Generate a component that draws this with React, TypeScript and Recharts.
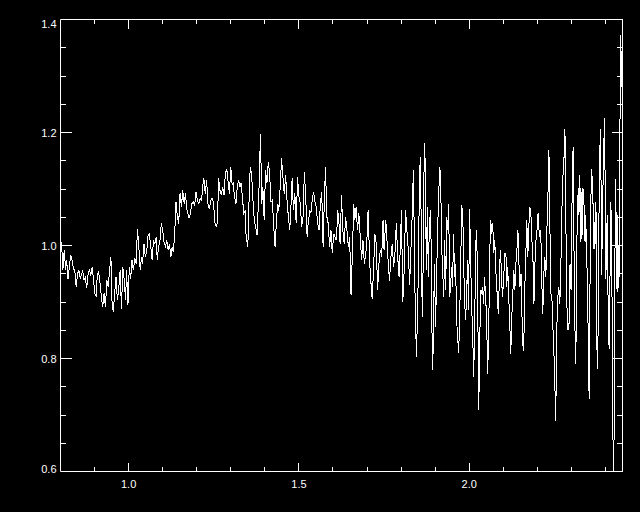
import { LineChart, Line, XAxis, YAxis } from "recharts";

// wavelength (micron) and relative flux
const wavelength = [
  0.803, 0.807, 0.811, 0.815, 0.818, 0.822, 0.826, 0.83, 0.834, 0.838,
  0.842, 0.846, 0.85, 0.854, 0.858, 0.861, 0.865, 0.869, 0.873, 0.877,
  0.881, 0.885, 0.889, 0.893, 0.897, 0.901, 0.905, 0.908, 0.912, 0.916,
  0.92, 0.924, 0.928, 0.932, 0.936, 0.94, 0.944, 0.948, 0.951, 0.955,
  0.959, 0.963, 0.967, 0.971, 0.975, 0.979, 0.983, 0.987, 0.991, 0.994,
  0.998, 1.002, 1.006, 1.01, 1.014, 1.018, 1.022, 1.026, 1.03, 1.034,
  1.038, 1.041, 1.045, 1.049, 1.053, 1.057, 1.061, 1.065, 1.069, 1.073,
  1.077, 1.081, 1.084, 1.088, 1.092, 1.096, 1.1, 1.104, 1.108, 1.112,
  1.116, 1.12, 1.124, 1.128, 1.131, 1.135, 1.139, 1.143, 1.147, 1.151,
  1.155, 1.159, 1.163, 1.167, 1.171, 1.174, 1.178, 1.182, 1.186, 1.19,
  1.194, 1.198, 1.202, 1.206, 1.21, 1.214, 1.218, 1.221, 1.225, 1.229,
  1.233, 1.237, 1.241, 1.245, 1.249, 1.253, 1.257, 1.261, 1.264, 1.268,
  1.272, 1.276, 1.28, 1.284, 1.288, 1.292, 1.296, 1.3, 1.304, 1.307,
  1.311, 1.315, 1.319, 1.323, 1.327,
  1.33, 1.334, 1.338, 1.342, 1.345, 1.35, 1.353,
  1.357, 1.361, 1.365, 1.369, 1.373, 1.377, 1.381, 1.384, 1.387, 1.391,
  1.394, 1.398, 1.402, 1.406, 1.41, 1.414, 1.418, 1.422, 1.426, 1.43,
  1.434, 1.438, 1.441, 1.445, 1.449, 1.453, 1.457, 1.461, 1.465, 1.469,
  1.473, 1.477, 1.48, 1.484, 1.488, 1.492, 1.496, 1.5, 1.504, 1.508,
  1.512, 1.516, 1.52, 1.524, 1.527, 1.532, 1.535, 1.539, 1.543, 1.547,
  1.551, 1.555, 1.559, 1.563, 1.567, 1.571, 1.574, 1.578, 1.582, 1.586,
  1.59, 1.594, 1.598, 1.602, 1.606,
  1.61, 1.614, 1.617, 1.621, 1.625, 1.629, 1.633, 1.637, 1.641, 1.645,
  1.649, 1.653, 1.657, 1.661, 1.664, 1.668, 1.672, 1.676, 1.68, 1.684,
  1.688, 1.692, 1.696, 1.7, 1.703, 1.708, 1.711, 1.715, 1.719, 1.723,
  1.727, 1.731, 1.735, 1.739, 1.743, 1.747, 1.75, 1.755, 1.758, 1.762,
  1.766, 1.77, 1.774, 1.778, 1.782, 1.786, 1.79, 1.794, 1.797, 1.801,
  1.805, 1.809, 1.813, 1.817, 1.821, 1.825, 1.828, 1.832, 1.836,
  1.838, 1.841, 1.845, 1.849, 1.853, 1.856, 1.859, 1.862, 1.865, 1.868,
  1.871, 1.874, 1.877, 1.88, 1.883, 1.887, 1.89, 1.893, 1.895, 1.898,
  1.901, 1.904, 1.907, 1.91, 1.913, 1.916, 1.919, 1.922, 1.925, 1.928,
  1.931, 1.934, 1.937, 1.94, 1.942, 1.945, 1.948, 1.951, 1.954, 1.957,
  1.96, 1.963, 1.966, 1.969, 1.972, 1.975, 1.978, 1.981, 1.984, 1.987,
  1.989, 1.992, 1.995, 1.998, 2.001, 2.004, 2.007, 2.01, 2.013, 2.016,
  2.019, 2.022, 2.025, 2.028, 2.031, 2.034, 2.036, 2.039, 2.042, 2.045,
  2.048, 2.051, 2.054, 2.057, 2.06, 2.063, 2.066, 2.069, 2.072, 2.075,
  2.078, 2.081, 2.083, 2.086, 2.089, 2.092, 2.095, 2.098, 2.101, 2.105,
  2.108, 2.11, 2.113, 2.116, 2.119, 2.122, 2.125, 2.128, 2.131, 2.134,
  2.137, 2.14, 2.143, 2.146, 2.149, 2.152, 2.154, 2.157, 2.16, 2.163,
  2.166, 2.169, 2.172, 2.175, 2.178, 2.181, 2.184, 2.187, 2.19, 2.193,
  2.196, 2.199, 2.202, 2.204, 2.207, 2.21, 2.213, 2.216, 2.219, 2.222,
  2.225, 2.228, 2.231, 2.234, 2.237, 2.24, 2.243, 2.246, 2.249, 2.252,
  2.254, 2.257, 2.26, 2.263, 2.266, 2.269, 2.272, 2.275, 2.278, 2.281,
  2.284, 2.287, 2.29, 2.293, 2.296, 2.299, 2.302, 2.305, 2.307, 2.31,
  2.313,
  2.316, 2.319, 2.321, 2.323, 2.325, 2.327, 2.328, 2.331, 2.333, 2.334,
  2.337, 2.34, 2.342, 2.344, 2.347, 2.35, 2.352, 2.354, 2.356, 2.358,
  2.36, 2.362, 2.364, 2.366, 2.368, 2.369, 2.372, 2.374, 2.375, 2.377,
  2.38, 2.381, 2.383, 2.385, 2.387, 2.389, 2.391, 2.393, 2.397, 2.399,
  2.401, 2.403, 2.405, 2.407, 2.409, 2.411, 2.413, 2.415, 2.416, 2.419,
  2.421, 2.423, 2.425, 2.426, 2.428, 2.43, 2.432, 2.434, 2.436, 2.438,
  2.44, 2.442, 2.443, 2.445, 2.447, 2.449,
];

const flux = [
  1.006, 0.956, 0.992, 0.956, 0.974, 0.941, 0.962, 0.983, 0.974, 0.959,
  0.956, 0.927, 0.95, 0.956, 0.941, 0.947, 0.956, 0.939, 0.944, 0.924,
  0.95, 0.956, 0.947, 0.962, 0.939, 0.915, 0.909, 0.95, 0.953, 0.933,
  0.909, 0.891, 0.915, 0.891, 0.939, 0.927, 0.956, 0.98, 0.903, 0.882,
  0.915, 0.944, 0.903, 0.924, 0.956, 0.888, 0.962, 0.939, 0.903, 0.956,
  0.894, 0.962, 0.941, 0.974, 0.956, 0.977, 0.968, 1.03, 0.998, 0.956,
  0.98, 0.968, 1.003, 0.98, 0.989, 1.018, 1.021, 0.998, 0.974, 1.009,
  1.003, 1.015, 0.974, 0.998, 1.009, 1.039, 1.027, 1.006, 0.998, 1.009,
  0.992, 1.003, 0.98, 0.998, 0.989, 1.015, 1.077, 1.051, 1.039, 1.092,
  1.068, 1.098, 1.074, 1.092, 1.063, 1.057, 1.048, 1.06, 1.074, 1.077,
  1.071, 1.095, 1.08, 1.074, 1.083, 1.08, 1.107, 1.119, 1.092, 1.116,
  1.074, 1.065, 1.08, 1.083, 1.077, 1.042, 1.033, 1.042, 1.119, 1.098,
  1.089, 1.104, 1.089, 1.127, 1.136, 1.113, 1.092, 1.139, 1.107, 1.11,
  1.086, 1.074, 1.104, 1.116, 1.104,
  1.11, 1.086, 1.057, 1.062, 1.015, 0.997, 1.068,
  1.139, 1.127, 1.08, 1.045, 1.033, 1.018, 1.074, 1.121, 1.198, 1.074,
  1.104, 1.045, 1.133, 1.11, 1.148, 1.127, 1.077, 1.08, 1.033, 0.997,
  1.045, 1.074, 1.062, 1.104, 1.154, 1.121, 1.092, 1.124, 1.08, 1.051,
  1.027, 1.074, 1.119, 1.062, 1.092, 1.039, 1.121, 1.086, 1.074, 1.033,
  1.051, 1.13, 1.086, 1.015, 1.039, 1.062, 1.057, 1.08, 1.095, 1.077,
  1.068, 1.039, 1.027, 1.074, 1.095, 0.997, 1.068, 1.139, 1.051, 1.039,
  0.997, 1.027, 0.986, 1.021, 1.015,
  1.009, 1.062, 1.045, 1.003, 1.089, 1.027, 1.003, 1.051, 1.027, 0.997,
  1.015, 0.912, 0.986, 1.074, 1.045, 1.068, 1.027, 1.057, 1.015, 0.974,
  1.009, 0.968, 0.983, 1.015, 1.062, 0.968, 0.938, 0.906, 0.956, 1.021,
  1.003, 0.921, 0.968, 0.992, 0.98, 1.045, 0.992, 1.045, 1.015, 0.971,
  0.938, 0.98, 1.003, 0.962, 0.986, 1.039, 0.98, 0.944, 0.986, 1.062,
  0.9, 0.956, 1.062, 1.027, 0.992, 0.93, 0.98, 1.045, 1.133,
  1.045, 0.909, 0.803, 0.897, 1.071, 1.157, 1.045, 0.874, 0.974, 1.181,
  1.145, 0.956, 1.068, 0.944, 1.039, 1.062, 0.868, 0.779, 0.862, 0.968,
  0.856, 0.933, 1.027, 1.08, 1.139, 1.127, 0.998, 0.956, 0.909, 1.009,
  0.921, 1.051, 1.027, 1.074, 0.909, 0.921, 0.962, 0.927, 1.021, 0.944,
  0.968, 0.868, 0.838, 0.809, 0.874, 0.968, 1.071, 1.057, 0.956, 0.897,
  0.868, 0.903, 0.974, 0.885, 1.065, 0.98, 0.891, 0.85, 0.767, 0.856,
  1.003, 1.027, 0.897, 0.708, 0.838, 0.921, 0.915, 0.927, 0.897, 0.944,
  0.909, 0.874, 0.773, 0.838, 0.98, 1.045, 1.021, 1.039, 0.986, 1.009,
  0.956, 0.927, 0.897, 0.879, 0.962, 0.992, 0.938, 0.909, 0.944, 0.986,
  0.98, 0.927, 0.962, 0.909, 0.862, 0.808, 0.874, 0.915, 0.956, 0.921,
  0.968, 0.992, 1.027, 0.968, 0.927, 0.95, 0.897, 0.826, 0.814, 0.921,
  0.98, 1.045, 0.98, 1.033, 1.068, 1.057, 1.009, 0.98, 0.897, 0.968,
  1.009, 1.027, 1.057, 1.033, 1.015, 1.027, 0.938, 0.879, 0.95, 0.98,
  0.944, 1.027, 1.086, 1.169, 1.027, 0.915, 0.903, 0.85, 0.803, 0.74,
  0.69, 0.85, 0.909, 0.927, 0.897, 0.962, 1.062, 1.121, 1.15, 1.207,
  1.027, 0.891, 0.85, 0.862, 0.968, 0.921, 1.086, 1.175, 1.027, 0.862,
  0.791,
  1.006, 1.089, 1.054, 1.124, 1.059, 1.101, 1.006, 1.095, 1.018, 1.101,
  1.071, 1.006, 1.054, 1.0, 0.935, 0.811, 0.729, 0.876, 1.054, 1.101,
  1.136, 1.083, 1.071, 0.994, 1.042, 0.994, 1.077, 0.935, 0.817, 0.782,
  0.935, 1.054, 1.148, 1.207, 1.113, 0.947, 1.054, 1.113, 1.225, 1.113,
  0.941, 0.994, 1.054, 0.935, 0.841, 0.817, 0.924, 1.042, 1.077, 0.924,
  0.758, 0.58, 0.64, 0.817, 0.994, 1.118, 0.994, 0.918, 1.054, 0.924,
  0.947, 1.101, 1.272, 1.372, 1.28, 1.34,
];

const xTicks = [0.9, 1.0, 1.1, 1.2, 1.3, 1.4, 1.5, 1.6, 1.7, 1.8, 1.9, 2.0, 2.1, 2.2, 2.3, 2.4];
const xLabels = [1.0, 1.5, 2.0];
const yTicks = [0.6, 0.65, 0.7, 0.75, 0.8, 0.85, 0.9, 0.95, 1.0, 1.05, 1.1, 1.15, 1.2, 1.25, 1.3, 1.35, 1.4];
const yLabels = [0.6, 0.8, 1.0, 1.2, 1.4];

const chartData = wavelength.map((w, i) => ({ w, f: flux[i] }));

const FONT = "'Liberation Sans', Arial, sans-serif";
const isIn = (v: number, list: number[]) => list.some((m) => Math.abs(m - v) < 1e-6);

// IDL-style ticks point into the plot box
const BottomTick = ({ x, y, payload }: any) => {
  const major = isIn(payload.value, xLabels);
  return (
    <g>
      <line x1={x} y1={y} x2={x} y2={y - (major ? 9 : 4.5)} stroke="#fff" shapeRendering="crispEdges" />
      {major && (
        <text x={x} y={y + 16} textAnchor="middle" fill="#fff" fontSize={11} fontFamily={FONT}>
          {payload.value.toFixed(1)}
        </text>
      )}
    </g>
  );
};

const TopTick = ({ x, y, payload }: any) => {
  const major = isIn(payload.value, xLabels);
  return <line x1={x} y1={y} x2={x} y2={y + (major ? 9 : 4.5)} stroke="#fff" shapeRendering="crispEdges" />;
};

const LeftTick = ({ x, y, payload }: any) => {
  const major = isIn(payload.value, yLabels);
  const v = payload.value;
  const dy = Math.abs(v - 1.4) < 1e-6 ? 8 : Math.abs(v - 0.6) < 1e-6 ? 1 : 4;
  return (
    <g>
      <line x1={x} y1={y} x2={x + (major ? 11 : 5.5)} y2={y} stroke="#fff" shapeRendering="crispEdges" />
      {major && (
        <text x={x - 4} y={y + dy} textAnchor="end" fill="#fff" fontSize={11} fontFamily={FONT}>
          {v.toFixed(1)}
        </text>
      )}
    </g>
  );
};

const RightTick = ({ x, y, payload }: any) => {
  const major = isIn(payload.value, yLabels);
  return <line x1={x} y1={y} x2={x - (major ? 11 : 5.5)} y2={y} stroke="#fff" shapeRendering="crispEdges" />;
};

export default function App() {
  return (
    <div style={{ width: 640, height: 512, background: "#000" }}>
      <style>{"body{margin:0;background:#000}"}</style>
      <LineChart
        width={640}
        height={512}
        data={chartData}
        margin={{ top: 9.5, right: 7.5, bottom: 10.5, left: 10.5 }}
      >
        <XAxis
          xAxisId="b"
          dataKey="w"
          type="number"
          domain={[0.8, 2.45]}
          allowDataOverflow
          ticks={xTicks}
          interval={0}
          height={30}
          tickSize={0}
          tickMargin={0}
          tickLine={false}
          axisLine={{ stroke: "#fff" }}
          tick={<BottomTick />}
        />
        <XAxis
          xAxisId="t"
          orientation="top"
          dataKey="w"
          type="number"
          domain={[0.8, 2.45]}
          allowDataOverflow
          ticks={xTicks}
          interval={0}
          height={10}
          tickSize={0}
          tickMargin={0}
          tickLine={false}
          axisLine={{ stroke: "#fff" }}
          tick={<TopTick />}
        />
        <YAxis
          yAxisId="l"
          type="number"
          domain={[0.6, 1.4]}
          allowDataOverflow
          ticks={yTicks}
          interval={0}
          width={50}
          tickSize={0}
          tickMargin={0}
          tickLine={false}
          axisLine={{ stroke: "#fff" }}
          tick={<LeftTick />}
        />
        <YAxis
          yAxisId="r"
          orientation="right"
          type="number"
          domain={[0.6, 1.4]}
          allowDataOverflow
          ticks={yTicks}
          interval={0}
          width={10}
          tickSize={0}
          tickMargin={0}
          tickLine={false}
          axisLine={{ stroke: "#fff" }}
          tick={<RightTick />}
        />
        <Line
          xAxisId="t"
          yAxisId="r"
          dataKey="f"
          type="linear"
          stroke="none"
          dot={false}
          activeDot={false}
          isAnimationActive={false}
        />
        <Line
          xAxisId="b"
          yAxisId="l"
          dataKey="f"
          type="linear"
          stroke="#fff"
          strokeWidth={1}
          shapeRendering="crispEdges"
          dot={false}
          activeDot={false}
          isAnimationActive={false}
        />
      </LineChart>
    </div>
  );
}
